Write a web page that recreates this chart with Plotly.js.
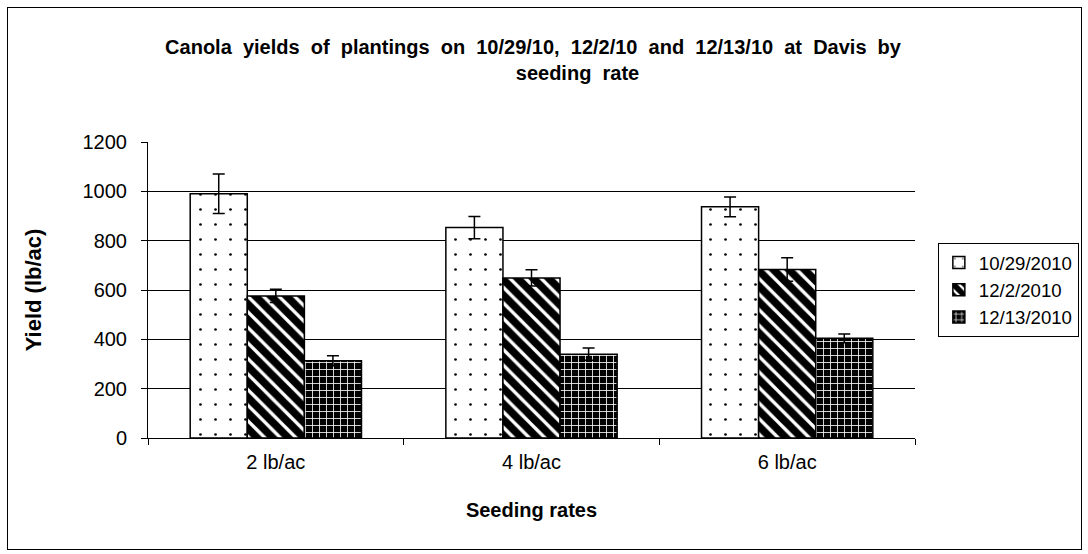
<!DOCTYPE html>
<html>
<head>
<meta charset="utf-8">
<script src="https://cdn.plot.ly/plotly-3.0.1.min.js"></script>
<style>
html,body{margin:0;padding:0;background:#fff;}
#wrap{position:relative;width:1088px;height:554px;}
#chart{position:absolute;left:0;top:0;width:1088px;height:554px;}
#frame{position:absolute;left:7px;top:7px;width:1073px;height:541px;border:1px solid #000;pointer-events:none;}
</style>
</head>
<body>
<div id="wrap"><div id="chart"></div><div id="frame"></div></div>
<script>
const categories = ["2 lb/ac", "4 lb/ac", "6 lb/ac"];
const seriesNames = ["10/29/2010", "12/2/2010", "12/13/2010"];
const yield1029 = [990, 853, 937];
const err1029 = [80, 45, 40];
const yield122 = [576, 649, 683];
const err122 = [27, 33, 48];
const yield1213 = [313, 340, 404];
const err1213 = [20, 25, 18];
const yTicks = [0, 200, 400, 600, 800, 1000, 1200];

const font = "Liberation Sans, Arial, sans-serif";
const patterns = [
  {shape: ".", bgcolor: "#ffffff", fgcolor: "#000000", size: 15, solidity: 0.025, fillmode: "replace"},
  {shape: "\\", bgcolor: "#ffffff", fgcolor: "#000000", size: 11, solidity: 0.7, fillmode: "replace"},
  {shape: "+", bgcolor: "#000000", fgcolor: "#ffffff", size: 7, solidity: 0.22, fillmode: "replace"}
];
const vals = [yield1029, yield122, yield1213];
const errs = [err1029, err122, err1213];

const traces = seriesNames.map((n, i) => ({
  type: "bar",
  name: n,
  x: categories,
  y: vals[i],
  marker: {color: "#ffffff", pattern: patterns[i], line: {color: "#000000", width: 1.5}},
  error_y: {type: "data", array: errs[i], visible: true, color: "#000000", thickness: 1.5, width: 6}
}));

const pad = "&nbsp;".repeat(16);
const layout = {
  width: 1088, height: 554,
  margin: {l: 148, r: 173, t: 142, b: 116},
  paper_bgcolor: "#ffffff", plot_bgcolor: "#ffffff",
  barmode: "group", bargap: 0.33, bargroupgap: 0,
  font: {family: font, color: "#000000", size: 20},
  title: {
    text: "<b>Canola  yields  of  plantings  on  10/29/10,  12/2/10  and  12/13/10  at  Davis  by<br>" + pad + "seeding  rate</b>",
    font: {family: font, size: 20, color: "#000"},
    x: 0.502, xref: "paper", xanchor: "center",
    y: 0.902, yref: "container", yanchor: "middle"
  },
  xaxis: {
    type: "category",
    showline: true, linecolor: "#000", linewidth: 1,
    ticks: "outside", tickson: "boundaries", ticklen: 6, tickcolor: "#000",
    ticklabelstandoff: 6,
    tickfont: {family: font, size: 20},
    showgrid: false,
    title: {text: "<b>Seeding rates</b>", font: {family: font, size: 20}, standoff: 30}
  },
  yaxis: {
    range: [0, 1200],
    tickvals: yTicks,
    showline: true, linecolor: "#000", linewidth: 1,
    ticks: "outside", ticklen: 6, tickcolor: "#000",
    ticklabelstandoff: 10,
    showgrid: true, gridcolor: "#000", gridwidth: 1,
    zeroline: false,
    tickfont: {family: font, size: 20},
    title: {text: "<b>Yield (lb/ac)</b>", font: {family: font, size: 22}, standoff: 34}
  },
  legend: {
    xref: "container", yref: "container",
    x: 0.862, xanchor: "left", y: 0.4765, yanchor: "middle",
    bordercolor: "#000", borderwidth: 1, bgcolor: "#fff",
    font: {family: font, size: 18.6},
    itemwidth: 30, tracegroupgap: 0
  },
  showlegend: true
};

Plotly.newPlot("chart", traces, layout, {displayModeBar: false, staticPlot: true});
</script>
</body>
</html>
